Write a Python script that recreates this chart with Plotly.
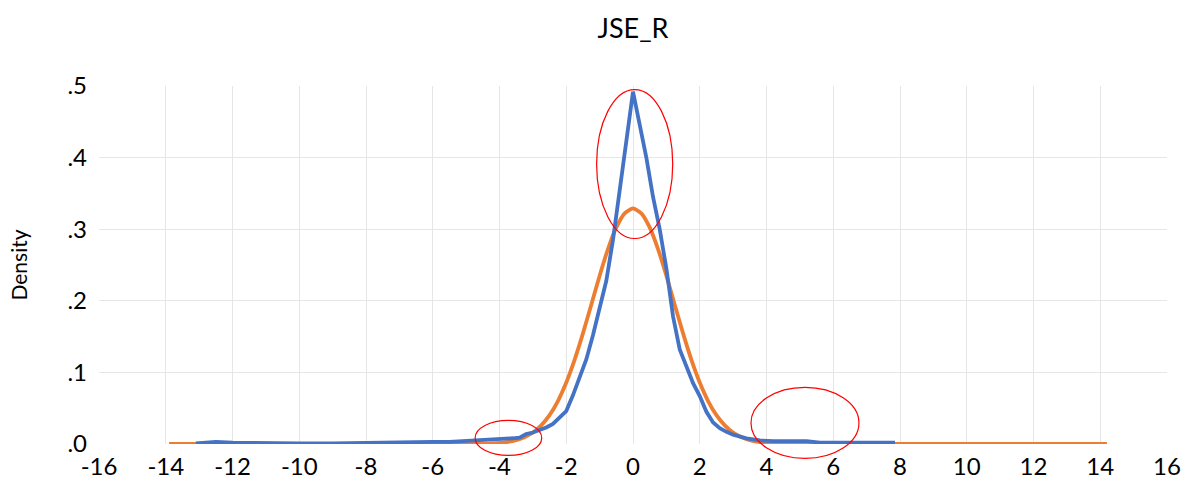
import plotly.graph_objects as go

# ---- data ----
kernel_x = [-13.1, -12.5, -12.0, -11.0, -10.0, -9.0, -8.0, -7.0, -6.7, -6.0, -5.5, -5.0, -4.5,
            -4.0, -3.6, -3.4, -3.2, -3.0, -2.8, -2.6, -2.4, -2.2, -2.0, -1.8, -1.6, -1.4,
            -1.2, -1.0, -0.8, -0.6, -0.4, -0.2, 0.0, 0.2, 0.4, 0.6, 0.8, 1.0, 1.2, 1.4,
            1.6, 1.8, 2.0, 2.2, 2.4, 2.6, 2.8, 3.0, 3.4, 3.8, 4.2, 4.6, 4.9, 5.2, 5.6,
            6.0, 6.5, 7.0, 7.4, 7.85]
kernel_y = [0.001, 0.003, 0.002, 0.001, 0.001, 0.001, 0.002, 0.002, 0.003, 0.003, 0.003, 0.004, 0.005,
            0.007, 0.008, 0.009, 0.014, 0.016, 0.019, 0.023, 0.028, 0.037, 0.046, 0.068, 0.092, 0.118,
            0.152, 0.19, 0.228, 0.285, 0.352, 0.42, 0.492, 0.446, 0.40, 0.345, 0.30, 0.245, 0.178, 0.132,
            0.108, 0.085, 0.067, 0.045, 0.030, 0.022, 0.017, 0.013, 0.008, 0.005, 0.004, 0.004, 0.005, 0.004, 0.002,
            0.002, 0.002, 0.002, 0.003, 0.002]

normal_x = [-13.9, -8.0, -6.0, -5.0, -4.75, -4.5, -4.25, -4.0, -3.75, -3.5, -3.25, -3.0, -2.75, -2.5,
            -2.25, -2.0, -1.75, -1.5, -1.25, -1.0, -0.75, -0.5, -0.25, 0.0, 0.25, 0.5, 0.75,
            1.0, 1.25, 1.5, 1.75, 2.0, 2.25, 2.5, 2.75, 3.0, 3.25, 3.5, 3.75, 4.0, 4.25,
            4.5, 4.75, 5.0, 6.0, 8.0, 14.2]
normal_y = [0.0, 0.0, 0.0, 0.0001, 0.0002, 0.0004, 0.0008, 0.0015, 0.0029, 0.0054, 0.0095, 0.016, 0.026, 0.0403,
            0.060, 0.0858, 0.1176, 0.1545, 0.1946, 0.2351, 0.2723, 0.3025, 0.3222, 0.329, 0.3222, 0.3025, 0.2723,
            0.2351, 0.1946, 0.1545, 0.1176, 0.0858, 0.060, 0.0403, 0.026, 0.016, 0.0095, 0.0054, 0.0029, 0.0015, 0.0008,
            0.0004, 0.0002, 0.0001, 0.0, 0.0, 0.0]

x_ticks = [-16, -14, -12, -10, -8, -6, -4, -2, 0, 2, 4, 6, 8, 10, 12, 14, 16]
x_tick_text = ["-16", "-14", "-12", "-10", "-8", "-6", "-4", "-2", "0", "2", "4", "6", "8", "10", "12", "14", "16"]
y_ticks = [0.0, 0.1, 0.2, 0.3, 0.4, 0.5]
y_tick_text = [".0", ".1", ".2", ".3", ".4", ".5"]

# highlight ellipses (data coordinates): x0, x1, y0, y1
ellipses = [(-1.09, 1.19, 0.287, 0.495),
            (-4.73, -2.735, -0.016, 0.033),
            (3.535, 6.77, -0.020, 0.079)]

X_RANGE = [-16, 16]
Y_RANGE = [0, 0.5]

FONT = "Lato"

fig = go.Figure()
fig.add_trace(go.Scatter(x=normal_x, y=normal_y, mode="lines",
                         line=dict(color="#ED7D31", width=3.8, shape="spline", smoothing=0.6),
                         name="Normal", showlegend=False, hoverinfo="skip"))
fig.add_trace(go.Scatter(x=kernel_x, y=kernel_y, mode="lines",
                         line=dict(color="#4472C4", width=3.8),
                         name="Kernel", showlegend=False, hoverinfo="skip"))


def to_paper(v, rng):
    return (v - rng[0]) / (rng[1] - rng[0])


for x0, x1, y0, y1 in ellipses:
    fig.add_shape(type="circle", xref="paper", yref="paper",
                  x0=to_paper(x0, X_RANGE), x1=to_paper(x1, X_RANGE),
                  y0=to_paper(y0, Y_RANGE), y1=to_paper(y1, Y_RANGE),
                  line=dict(color="#FF0000", width=1.2), layer="above")

fig.update_layout(
    width=1201, height=486,
    margin=dict(l=99, r=34, t=86, b=42, pad=0, autoexpand=False),
    paper_bgcolor="white", plot_bgcolor="white",
    font=dict(family=FONT, color="#000000"),
    title=dict(text="JSE_R", x=0.5, xref="paper", xanchor="center",
               y=1 - 29 / 486, yref="container", yanchor="middle",
               font=dict(family=FONT, size=27, color="#000000")),
    xaxis=dict(range=X_RANGE, tickmode="array", tickvals=x_ticks, ticktext=x_tick_text,
               showgrid=True, gridcolor="#E6E6E6", gridwidth=1, zeroline=False, automargin=False,
               showline=False, ticks="", ticklabelstandoff=6,
               tickfont=dict(family=FONT, size=24, color="#000000")),
    yaxis=dict(range=Y_RANGE, tickmode="array", tickvals=y_ticks, ticktext=y_tick_text,
               showgrid=True, gridcolor="#E6E6E6", gridwidth=1, zeroline=False, automargin=False,
               showline=False, ticks="", ticklabelstandoff=11,
               tickfont=dict(family=FONT, size=24, color="#000000"),
               title=dict(text="Density", standoff=34, font=dict(family=FONT, size=21, color="#000000"))),
)

fig.write_html("out.html")
